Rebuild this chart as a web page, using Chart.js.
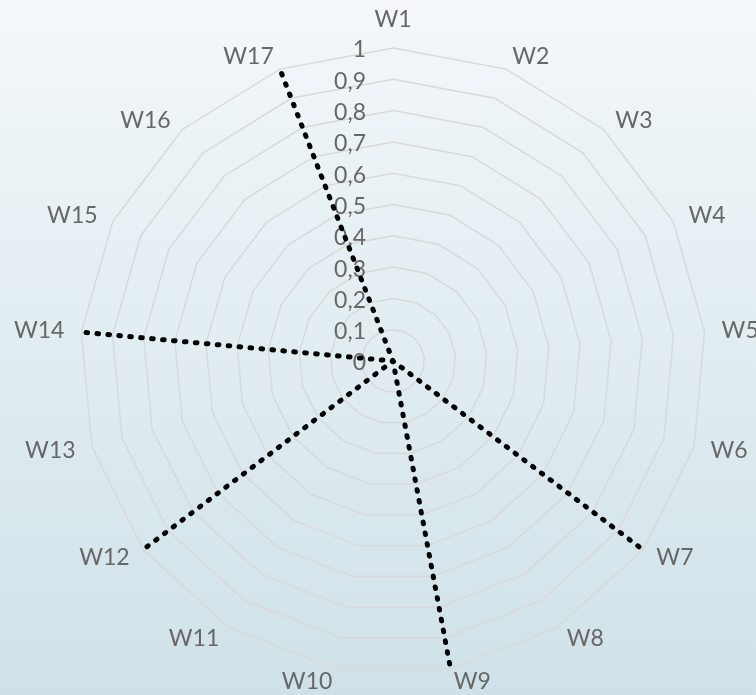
<!DOCTYPE html>
<html>
<head>
<meta charset="utf-8">
<script src="https://cdn.jsdelivr.net/npm/chart.js@4/dist/chart.umd.min.js"></script>
<style>
  html, body { margin: 0; padding: 0; }
  body {
    width: 756px; height: 695px; overflow: hidden;
    background: linear-gradient(to bottom, #f3f7fa 0%, #e3eef2 45%, #cfe1e8 100%);
  }
  canvas { display: block; }
</style>
</head>
<body>
<canvas id="radar" width="756" height="695"></canvas>
<script>
// Axis categories around the radar
const categories = ['W1','W2','W3','W4','W5','W6','W7','W8','W9','W10','W11','W12','W13','W14','W15','W16','W17'];
// Series values, one per category
const seriesValues = [0, 0, 0, 0, 0, 0, 1, 0, 1, 0, 0, 1, 0, 1, 0, 0, 1];
// Radial tick labels (decimal comma), from 0 to 1 by 0.1
const tickLabels = ['0','0,1','0,2','0,3','0,4','0,5','0,6','0,7','0,8','0,9','1'];

const FONT = '"Lato", "Noto Sans", sans-serif';
const FONT_SPEC = '400 23px ' + FONT;
const TEXT_COLOR = '#676767';

// Radial value labels, right-aligned just left of the vertical axis
const tickLabelPlugin = {
  id: 'tickLabelPlugin',
  beforeDatasetsDraw(chart) {
    const s = chart.scales.r;
    const ctx = chart.ctx;
    ctx.save();
    ctx.font = FONT_SPEC;
    ctx.fillStyle = TEXT_COLOR;
    ctx.textAlign = 'right';
    ctx.textBaseline = 'middle';
    s.ticks.forEach((t, i) => {
      const d = s.getDistanceFromCenterForValue(t.value);
      ctx.fillText(tickLabels[i], s.xCenter - 27, s.yCenter - d + 2);
    });
    ctx.restore();
  }
};

// Category labels just outside the outer ring: anchored at a point on each
// spoke, left-aligned on the right half, right-aligned on the left half
const pointLabelPlugin = {
  id: 'pointLabelPlugin',
  beforeDatasetsDraw(chart) {
    const s = chart.scales.r;
    const ctx = chart.ctx;
    const outer = s.getDistanceFromCenterForValue(s.max);
    ctx.save();
    ctx.font = FONT_SPEC;
    ctx.fillStyle = TEXT_COLOR;
    categories.forEach((label, i) => {
      const a = s.getIndexAngle(i);
      const sx = Math.sin(a);
      const sy = -Math.cos(a);
      const p = s.getPointPosition(i, outer + 17);
      let y = p.y - sy * 4;
      if (Math.abs(sx) < 0.05) {
        ctx.textAlign = 'center';
        ctx.textBaseline = sy < 0 ? 'bottom' : 'top';
        y = p.y;
      } else {
        ctx.textAlign = sx > 0 ? 'left' : 'right';
        ctx.textBaseline = 'middle';
      }
      ctx.fillText(label, p.x, y);
    });
    ctx.restore();
  }
};

// Dot period chosen so that a full out-and-back run along a spoke
// (twice the outer radius of 313 px) holds a whole number of dots
const DOT_PERIOD = 626 / 57;

new Chart(document.getElementById('radar'), {
  type: 'radar',
  data: {
    labels: categories,
    datasets: [{
      data: seriesValues,
      borderColor: '#000000',
      borderWidth: 5,
      borderDash: [0.8, DOT_PERIOD - 0.8],
      borderCapStyle: 'round',
      fill: false,
      pointRadius: 0,
      pointHoverRadius: 0,
      tension: 0
    }]
  },
  options: {
    responsive: false,
    devicePixelRatio: 1,
    animation: false,
    layout: { padding: { left: 80, right: 50, top: 48, bottom: 21 } },
    plugins: {
      legend: { display: false },
      tooltip: { enabled: false }
    },
    scales: {
      r: {
        min: 0,
        max: 1,
        ticks: { stepSize: 0.1, display: false },
        grid: { color: '#d9d9d9', lineWidth: 1.5 },
        angleLines: { display: false },
        pointLabels: { display: false }
      }
    }
  },
  plugins: [tickLabelPlugin, pointLabelPlugin]
});
</script>
</body>
</html>
